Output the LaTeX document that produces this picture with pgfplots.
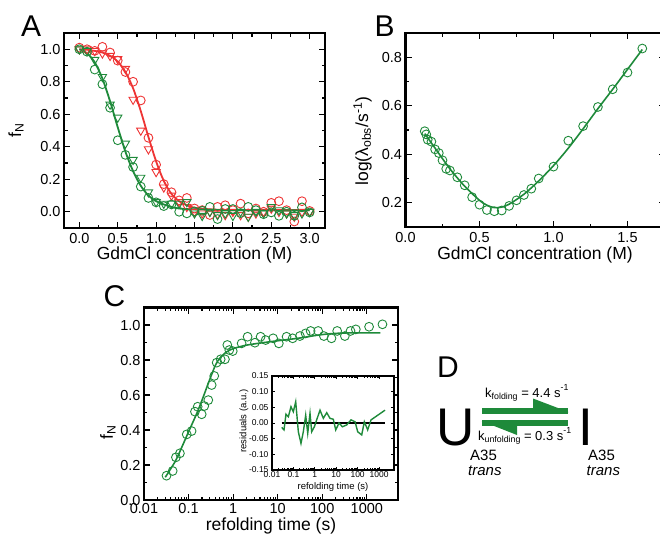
\documentclass[border=0pt]{standalone}
\usepackage{pgfplots}
\pgfplotsset{compat=1.18}
\usepackage{fontspec}
\setmainfont{Liberation Sans}
\definecolor{myred}{RGB}{238,52,52}
\definecolor{mygreen}{RGB}{30,138,58}
\pgfplotsset{
 orig/.style={
  scale only axis, anchor=north west,
  axis line style={line width=2.1pt},
  tick align=inside, tick pos=both,
  major tick length=6pt, minor tick length=3.5pt,
  every tick/.style={line width=1.2pt, black},
  /pgf/number format/assume math mode=true,
  tick label style={font=\fontsize{14.5}{14.5}\selectfont},
  label style={font=\fontsize{17.5}{17.5}\selectfont},
  xticklabel style={anchor=base, yshift=-15pt},
 },
 circ/.style={only marks, mark=o, mark size=4.4pt, mark options={line width=0.9pt}},
 tri/.style={only marks, mark=triangle, mark size=4.8pt, mark options={rotate=180, line width=0.9pt}},
}
\newcommand{\sub}[1]{\raisebox{-0.3ex}{\fontsize{8.8}{8.8}\selectfont #1}}
\newcommand{\sups}[1]{\raisebox{0.9ex}{\fontsize{8.8}{8.8}\selectfont #1}}
\begin{document}
\begin{tikzpicture}
\useasboundingbox (0,0) rectangle (660pt,-542pt);
% ---------------- Panel A
\begin{axis}[orig, at={(64pt,-33pt)}, width=261pt, height=195pt,
  xmin=-0.2, xmax=3.2, ymin=-0.1, ymax=1.1,
  xtick={0,0.5,1,1.5,2,2.5,3}, ytick={0,0.2,0.4,0.6,0.8,1.0},
  minor x tick num=1, minor y tick num=1,
  xticklabel style={/pgf/number format/.cd, fixed, fixed zerofill, precision=1},
  yticklabel style={/pgf/number format/.cd, fixed, fixed zerofill, precision=1},
  xlabel={GdmCl concentration (M)}, ylabel={f\textsubscript{N}},
  xlabel style={at={(axis description cs:0.5,-0.164)}, anchor=base},
  ylabel style={at={(axis description cs:-0.184,0.5)}, anchor=center}]
\addplot[myred, line width=1.8pt, smooth] coordinates {(0,1.0) (0.1,0.997) (0.2,0.99) (0.3,0.98) (0.4,0.96) (0.5,0.925) (0.6,0.86) (0.7,0.76) (0.8,0.62) (0.9,0.46) (1.0,0.31) (1.1,0.19) (1.2,0.11) (1.3,0.065) (1.4,0.04) (1.5,0.025) (1.7,0.015) (2.0,0.01) (2.5,0.01) (3.0,0.01)};
\addplot[myred, circ] coordinates {(0.0,1.01) (0.1,1.00) (0.2,0.99) (0.3,1.015) (0.4,0.98) (0.5,0.93) (0.6,0.86) (0.7,0.80) (0.8,0.685) (0.9,0.455) (1.0,0.29) (1.1,0.17) (1.2,0.12) (1.3,0.07) (1.4,0.085) (1.5,0.02) (1.6,0.01) (1.7,-0.02) (1.8,0.03) (1.9,0.04) (2.0,0.01) (2.1,0.05) (2.2,-0.01) (2.3,0.02) (2.4,0.0) (2.5,0.055) (2.6,0.065) (2.7,0.01) (2.8,-0.06) (2.9,0.065) (3.0,0.005)};
\addplot[myred, tri] coordinates {(0.0,1.0) (0.1,1.0) (0.2,0.99) (0.3,0.975) (0.4,0.96) (0.5,0.94) (0.6,0.88) (0.7,0.69) (0.8,0.50) (0.9,0.385) (1.0,0.245) (1.1,0.15) (1.2,0.10) (1.3,0.06) (1.4,0.03) (1.5,0.0) (1.6,-0.01) (1.7,0.0) (1.8,-0.015) (1.9,-0.02) (2.0,0.0) (2.1,-0.02) (2.2,-0.03) (2.3,-0.01) (2.4,0.0) (2.5,0.02) (2.6,0.0) (2.7,-0.01) (2.8,-0.03) (2.9,0.0) (3.0,0.0)};
\addplot[mygreen, line width=1.8pt, smooth] coordinates {(0,1.0) (0.1,0.975) (0.2,0.92) (0.3,0.82) (0.4,0.68) (0.5,0.52) (0.6,0.37) (0.7,0.25) (0.8,0.16) (0.9,0.10) (1.0,0.065) (1.1,0.045) (1.2,0.03) (1.3,0.02) (1.5,0.015) (2.0,0.01) (3.0,0.01)};
\addplot[mygreen, tri] coordinates {(0.0,1.0) (0.1,0.99) (0.2,0.935) (0.3,0.83) (0.4,0.66) (0.5,0.58) (0.6,0.42) (0.7,0.32) (0.8,0.21) (0.9,0.12) (1.0,0.06) (1.1,0.05) (1.2,0.05) (1.3,0.05) (1.4,0.06) (1.5,-0.01) (1.6,-0.025) (1.7,0.0) (1.8,-0.02) (1.9,-0.01) (2.0,-0.025) (2.1,0.0) (2.2,-0.03) (2.3,0.0) (2.4,-0.01) (2.5,0.03) (2.6,0.01) (2.7,-0.01) (2.8,-0.02) (2.9,-0.01) (3.0,0.0)};
\addplot[mygreen, circ] coordinates {(0.0,1.0) (0.1,0.985) (0.2,0.875) (0.3,0.785) (0.4,0.64) (0.5,0.44) (0.6,0.35) (0.7,0.275) (0.8,0.155) (0.9,0.085) (1.0,0.058) (1.1,0.035) (1.2,0.045) (1.3,0.0) (1.4,-0.01) (1.5,0.002) (1.6,0.006) (1.7,0.03) (1.8,-0.045) (1.9,0.017) (2.0,0.017) (2.1,-0.008) (2.2,0.03) (2.3,0.01) (2.4,-0.015) (2.5,-0.004) (2.6,-0.025) (2.7,0.0) (2.8,-0.025) (2.9,0.027) (3.0,-0.004)};
\end{axis}
\node[anchor=base west, inner sep=0, font=\fontsize{30}{30}\selectfont] at (21pt,-36.7pt) {A};
% ---------------- Panel B
\begin{axis}[orig, at={(405.5pt,-33pt)}, width=259pt, height=194pt,
  xmin=0, xmax=1.75, ymin=0.1, ymax=0.9,
  xtick={0,0.5,1,1.5}, ytick={0.2,0.4,0.6,0.8},
  minor x tick num=1, minor y tick num=1,
  xticklabel style={/pgf/number format/.cd, fixed, fixed zerofill, precision=1},
  yticklabel style={/pgf/number format/.cd, fixed, fixed zerofill, precision=1},
  xlabel={GdmCl concentration (M)}, ylabel={log(λ\textsubscript{obs}/s\textsuperscript{-1})},
  xlabel style={at={(axis description cs:0.5,-0.165)}, anchor=base},
  ylabel style={at={(axis description cs:-0.166,0.443)}, anchor=center}]
\addplot[mygreen, line width=1.6pt, smooth] coordinates {(0.13,0.485) (0.2,0.425) (0.3,0.34) (0.4,0.268) (0.5,0.21) (0.55,0.19) (0.6,0.18) (0.65,0.182) (0.7,0.194) (0.8,0.235) (0.9,0.29) (1.0,0.353) (1.1,0.425) (1.2,0.505) (1.3,0.588) (1.4,0.668) (1.5,0.75) (1.6,0.832)};
\addplot[mygreen, circ] coordinates {(0.13,0.495) (0.14,0.482) (0.15,0.46) (0.175,0.452) (0.2,0.42) (0.225,0.405) (0.25,0.375) (0.275,0.34) (0.3,0.333) (0.35,0.305) (0.4,0.272) (0.45,0.223) (0.5,0.192) (0.55,0.17) (0.6,0.165) (0.65,0.168) (0.7,0.187) (0.75,0.21) (0.8,0.232) (0.85,0.258) (0.9,0.30) (1.0,0.349) (1.1,0.456) (1.2,0.516) (1.3,0.595) (1.4,0.668) (1.5,0.737) (1.6,0.836)};
\end{axis}
\node[anchor=base west, inner sep=0, font=\fontsize{30}{30}\selectfont] at (374.5pt,-36.7pt) {B};
% ---------------- Panel C
\begin{axis}[orig, at={(144pt,-307.5pt)}, width=254pt, height=192.5pt,
  xmode=log, xmin=0.01, xmax=5000, ymin=0, ymax=1.1,
  xtick={0.01,0.1,1,10,100,1000}, xticklabels={0.01,0.1,1,10,100,1000},
  ytick={0,0.2,0.4,0.6,0.8,1.0}, minor y tick num=1,
  xticklabel style={yshift=2pt},
  yticklabel style={/pgf/number format/.cd, fixed, fixed zerofill, precision=1},
  xlabel={refolding time (s)}, ylabel={f\textsubscript{N}},
  xlabel style={at={(axis description cs:0.5,-0.156)}, anchor=base},
  ylabel style={at={(axis description cs:-0.142,0.353)}, anchor=center}]
\addplot[mygreen, line width=1.6pt, smooth] coordinates {(0.03,0.13) (0.05,0.22) (0.07,0.30) (0.1,0.39) (0.15,0.49) (0.2,0.57) (0.3,0.69) (0.4,0.77) (0.5,0.81) (0.7,0.845) (1,0.865) (2,0.885) (5,0.9) (10,0.91) (30,0.925) (70,0.94) (150,0.95) (400,0.955) (2000,0.955)};
\addplot[mygreen, circ] coordinates {(0.032,0.139) (0.044,0.166) (0.052,0.244) (0.064,0.267) (0.091,0.375) (0.117,0.394) (0.139,0.505) (0.160,0.533) (0.197,0.490) (0.225,0.537) (0.277,0.571) (0.330,0.657) (0.377,0.709) (0.427,0.785) (0.525,0.804) (0.655,0.804) (0.74,0.886) (0.82,0.857) (0.98,0.851) (1.55,0.895) (2.11,0.933) (3.08,0.899) (4.13,0.933) (5.36,0.914) (7.9,0.924) (10.6,0.895) (15.8,0.933) (21.6,0.924) (31.5,0.937) (42.2,0.952) (54.7,0.966) (80.9,0.966) (108.6,0.937) (161,0.924) (216,0.966) (321,0.937) (430,0.966) (566,0.975) (1122,0.990) (2240,1.004)};
\end{axis}
\node[anchor=base west, inner sep=0, font=\fontsize{30}{30}\selectfont] at (103.5pt,-306.7pt) {C};
% ---------------- Inset
\begin{axis}[orig, at={(272pt,-376pt)}, width=122pt, height=94pt,
  axis background/.style={fill=white},
  axis line style={line width=1.4pt},
  major tick length=3pt, minor tick length=1.8pt,
  every tick/.style={line width=0.8pt, black},
  tick label style={font=\fontsize{8.5}{8.5}\selectfont},
  label style={font=\fontsize{9.5}{9.5}\selectfont},
  xmode=log, xmin=0.01, xmax=5000, ymin=-0.15, ymax=0.15,
  xtick={0.01,0.1,1,10,100,1000}, xticklabels={0.01,0.1,1,10,100,1000},
  ytick={-0.15,-0.1,-0.05,0,0.05,0.1,0.15},
  xticklabel style={yshift=8pt},
  yticklabel style={/pgf/number format/.cd, fixed, fixed zerofill, precision=2},
  xlabel={refolding time (s)}, ylabel={residuals (a.u.)},
  xlabel style={at={(axis description cs:0.5,-0.205)}, anchor=base},
  ylabel style={at={(axis description cs:-0.23,0.52)}, anchor=center}]
\addplot[black, line width=1.5pt] coordinates {(0.028,0) (2000,0)};
\addplot[mygreen, line width=1.4pt] coordinates {(0.0284,-0.014) (0.0364,-0.022) (0.045,0.028) (0.058,0.020) (0.077,0.052) (0.099,0.036) (0.128,0.068) (0.17,-0.028) (0.226,-0.065) (0.29,-0.028) (0.375,0.025) (0.466,-0.033) (0.597,0.031) (0.714,-0.028) (0.95,-0.012) (1.22,0.010) (1.75,0.041) (2.5,0.015) (3.6,0.033) (5.1,0.015) (7.3,0.012) (9.5,-0.022) (13.5,0.000) (19.4,-0.012) (30.9,-0.006) (49,0.010) (75.7,0.004) (101,-0.028) (155,-0.038) (206,0.004) (295,-0.022) (423,0.010) (1905,0.041)};
\end{axis}
% ---------------- Panel D
\node[anchor=base west, inner sep=0, font=\fontsize{30}{30}\selectfont] at (437pt,-377pt) {D};
\node[anchor=base west, inner sep=0, font=\fontsize{53}{53}\selectfont] at (436pt,-445pt) {U};
\node[anchor=base west, inner sep=0, font=\fontsize{53}{53}\selectfont] at (578pt,-445pt) {I};
\fill[mygreen] (482pt,-408pt) rectangle (568pt,-413.5pt);
\fill[mygreen] (533pt,-398.5pt) -- (568.5pt,-412pt) -- (533pt,-412pt) -- cycle;
\fill[mygreen] (481.5pt,-420pt) rectangle (568pt,-425.5pt);
\fill[mygreen] (481.5pt,-421pt) -- (517pt,-435pt) -- (517pt,-423pt) -- cycle;
\node[anchor=base west, inner sep=0, font=\fontsize{13}{13}\selectfont] at (485pt,-397pt) {k\sub{folding} = 4.4 s\sups{-1}};
\node[anchor=base west, inner sep=0, font=\fontsize{13}{13}\selectfont] at (478pt,-440pt) {k\sub{unfolding} = 0.3 s\sups{-1}};
\node[anchor=base west, inner sep=0, font=\fontsize{15}{15}\selectfont] at (470pt,-460pt) {A35};
\node[anchor=base west, inner sep=0, font=\fontsize{15}{15}\selectfont\itshape] at (468pt,-475pt) {trans};
\node[anchor=base west, inner sep=0, font=\fontsize{15}{15}\selectfont] at (588pt,-460pt) {A35};
\node[anchor=base west, inner sep=0, font=\fontsize{15}{15}\selectfont\itshape] at (586.5pt,-475pt) {trans};
\end{tikzpicture}
\end{document}
